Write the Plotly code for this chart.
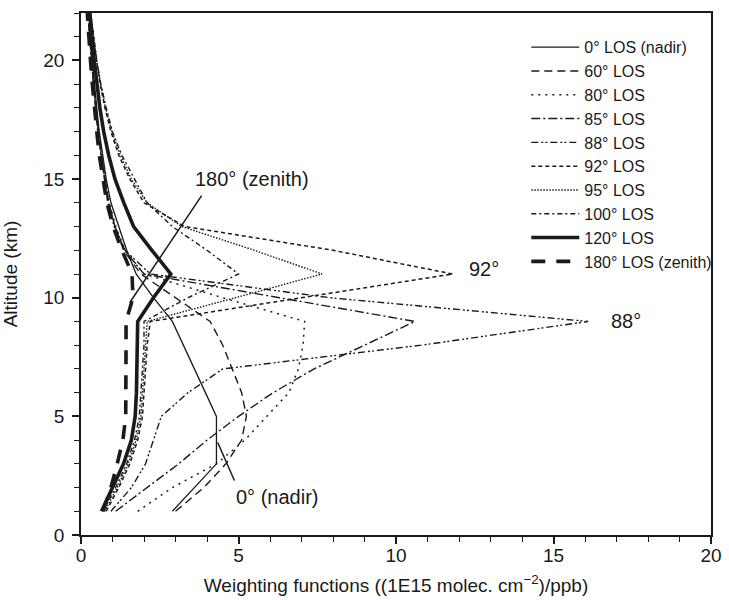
import plotly.graph_objects as go

altitude_km = list(range(1, 23))

los_names = ["0° LOS (nadir)", "60° LOS", "80° LOS", "85° LOS", "88° LOS",
             "92° LOS", "95° LOS", "100° LOS", "120° LOS", "180° LOS (zenith)"]

wf_0 = [2.9, 3.6, 4.3, 4.3, 4.3, 3.95, 3.6, 3.25, 2.9, 2.3, 1.75, 1.45, 1.2, 0.95, 0.8, 0.68, 0.58, 0.5, 0.42, 0.36, 0.3, 0.25]
wf_60 = [3.0, 3.9, 4.6, 5.1, 5.25, 5.1, 4.8, 4.5, 4.1, 3.0, 1.9, 1.35, 1.08, 0.88, 0.75, 0.64, 0.55, 0.47, 0.4, 0.34, 0.28, 0.23]
wf_80 = [1.8, 2.9, 4.3, 5.2, 5.9, 6.6, 6.9, 7.05, 7.1, 4.5, 2.0, 1.4, 1.1, 0.9, 0.77, 0.66, 0.56, 0.48, 0.41, 0.35, 0.29, 0.24]
wf_85 = [1.1, 2.1, 3.1, 4.0, 5.0, 6.1, 7.4, 9.0, 10.6, 6.3, 2.0, 1.38, 1.08, 0.88, 0.75, 0.64, 0.55, 0.47, 0.4, 0.34, 0.28, 0.23]
wf_88 = [0.95, 1.6, 2.05, 2.3, 2.55, 3.4, 4.5, 10.8, 16.1, 7.9, 2.2, 1.4, 1.05, 0.85, 0.74, 0.62, 0.53, 0.46, 0.39, 0.33, 0.27, 0.22]
wf_92 = [0.8, 1.2, 1.55, 1.8, 1.95, 2.0, 2.05, 2.1, 2.2, 7.0, 11.8, 8.0, 3.3, 2.0, 1.55, 1.2, 0.95, 0.76, 0.61, 0.49, 0.39, 0.3]
wf_95 = [0.75, 1.15, 1.5, 1.75, 1.9, 1.95, 2.0, 2.05, 2.1, 4.9, 7.65, 5.5, 3.2, 2.1, 1.6, 1.25, 0.98, 0.78, 0.62, 0.5, 0.4, 0.31]
wf_100 = [0.7, 1.1, 1.45, 1.7, 1.85, 1.9, 1.95, 2.0, 2.0, 3.4, 5.0, 4.0, 2.9, 2.1, 1.7, 1.3, 1.0, 0.8, 0.63, 0.5, 0.4, 0.3]
wf_120 = [0.65, 1.0, 1.35, 1.6, 1.72, 1.76, 1.78, 1.8, 1.8, 2.3, 2.85, 2.25, 1.67, 1.36, 1.08, 0.88, 0.72, 0.6, 0.5, 0.42, 0.35, 0.28]
wf_180 = [0.7, 0.95, 1.15, 1.33, 1.42, 1.43, 1.43, 1.43, 1.43, 1.65, 1.62, 1.3, 1.02, 0.82, 0.7, 0.58, 0.5, 0.42, 0.36, 0.3, 0.25, 0.2]

series = [wf_0, wf_60, wf_80, wf_85, wf_88, wf_92, wf_95, wf_100, wf_120, wf_180]

styles = [
    dict(width=1.3, dash="solid"),
    dict(width=1.4, dash="8px,5px"),
    dict(width=1.5, dash="2px,5px"),
    dict(width=1.4, dash="9px,3px,2px,3px"),
    dict(width=1.4, dash="7px,3px,2px,2px,2px,3px"),
    dict(width=1.5, dash="4px,3px"),
    dict(width=1.4, dash="1.5px,1.5px"),
    dict(width=1.4, dash="5px,3px,2px,3px"),
    dict(width=3.6, dash="solid"),
    dict(width=3.6, dash="14px,11px"),
]

ink = "#1a1a1a"
fig = go.Figure()
for name, vals, st in zip(los_names, series, styles):
    fig.add_trace(go.Scatter(x=vals, y=altitude_km, mode="lines", name=name,
                             line=dict(color=ink, width=st["width"], dash=st["dash"])))

font = "Liberation Sans, Arial, sans-serif"

labels = [
    dict(text="180° (zenith)", x=3.55, y=15.0),
    dict(text="92°", x=12.25, y=11.2),
    dict(text="88°", x=16.75, y=9.0),
    dict(text="0° (nadir)", x=4.85, y=1.6),
]
for lb in labels:
    fig.add_annotation(x=lb["x"], y=lb["y"], text=lb["text"], showarrow=False,
                       xanchor="left", yanchor="middle", font=dict(family=font, size=20, color=ink))

leaders = [
    dict(x0=3.83, y0=14.3, x1=1.55, y1=9.8),
    dict(x0=4.87, y0=2.3, x1=4.34, y1=3.9),
]
for ld in leaders:
    fig.add_shape(type="line", x0=ld["x0"], y0=ld["y0"], x1=ld["x1"], y1=ld["y1"],
                  line=dict(color=ink, width=1.5))

axis_common = dict(showline=True, linecolor=ink, linewidth=1.5, mirror=True,
                   ticks="outside", ticklen=7, tickwidth=1.5, tickcolor=ink,
                   showgrid=False, zeroline=False, automargin=False,
                   tickfont=dict(family=font, size=19, color=ink),
                   minor=dict(ticks="outside", ticklen=5, tickwidth=1.2, tickcolor=ink, dtick=1, showgrid=False))

fig.update_xaxes(range=[0, 20], dtick=5, tick0=0, ticklabelstandoff=-5,
                 title=dict(text="Weighting functions ((1E15 molec. cm<sup>−2</sup>)/ppb)",
                            font=dict(family=font, size=19, color=ink), standoff=14),
                 **axis_common)
fig.update_yaxes(range=[0, 22], dtick=5, tick0=0, ticklabelstandoff=4,
                 title=dict(text="Altitude (km)", font=dict(family=font, size=19, color=ink), standoff=21),
                 **axis_common)

fig.update_layout(
    width=729, height=600,
    margin=dict(l=81, r=16, t=13, b=65),
    paper_bgcolor="white", plot_bgcolor="white",
    showlegend=True,
    legend=dict(x=1.01, xanchor="right", y=0.967, yanchor="top",
                bgcolor="rgba(0,0,0,0)", font=dict(family=font, size=16, color=ink),
                tracegroupgap=0, itemwidth=48),
)

fig.write_html("out.html")
